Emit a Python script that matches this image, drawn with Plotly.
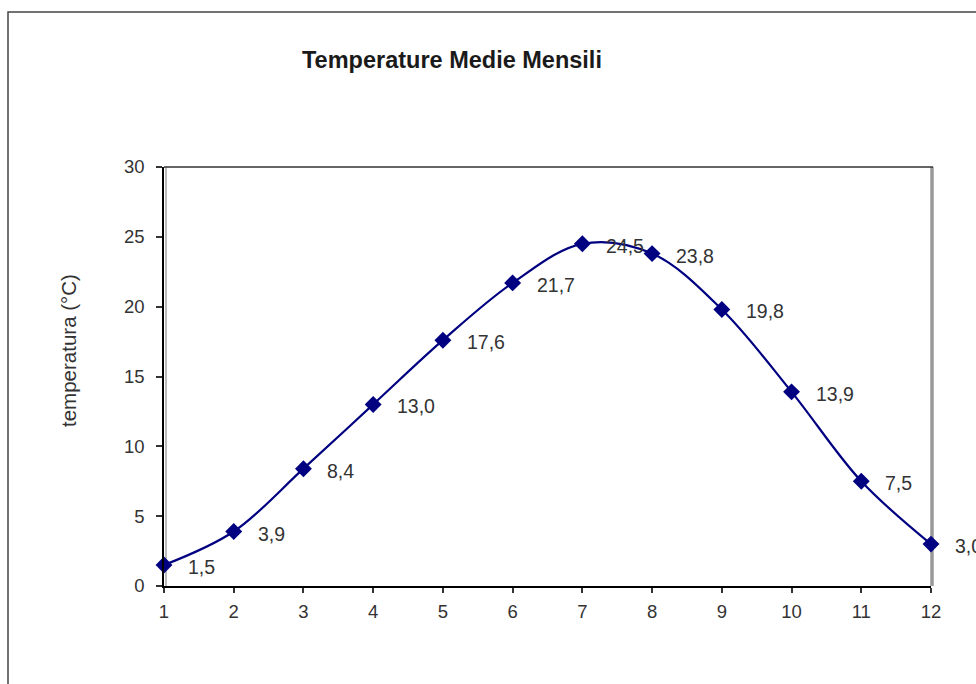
import plotly.graph_objects as go

months = [1, 2, 3, 4, 5, 6, 7, 8, 9, 10, 11, 12]
temps = [1.5, 3.9, 8.4, 13.0, 17.6, 21.7, 24.5, 23.8, 19.8, 13.9, 7.5, 3.0]
labels = [f"{v:.1f}".replace(".", ",") for v in temps]
y_ticks = [0, 5, 10, 15, 20, 25, 30]

W, H = 976, 684
L, R, T, B = 164, 931, 167, 586
pw, ph = R - L, B - T

def px(xp):
    return (xp - L) / pw

def py(yp):
    return (B - yp) / ph

FONT = "Liberation Sans, Arial, sans-serif"
NAVY = "#000080"

fig = go.Figure()
fig.add_trace(go.Scatter(
    x=months, y=temps, mode="lines+markers",
    line=dict(color=NAVY, width=2.2, shape="spline", smoothing=1.0),
    marker=dict(symbol="diamond", size=13, color=NAVY, line=dict(width=0)),
    cliponaxis=False, hoverinfo="x+y",
))

annotations = []
for x, y, t in zip(months, temps, labels):
    annotations.append(dict(
        x=x, y=y, xref="x", yref="y", text=t, showarrow=False,
        xanchor="left", yanchor="middle", xshift=22, yshift=-2,
        font=dict(family=FONT, size=19.5, color="#333333"),
    ))

annotations.append(dict(
    x=px(452), y=py(60), xref="paper", yref="paper",
    text="<b>Temperature Medie Mensili</b>", showarrow=False,
    xanchor="center", yanchor="middle",
    font=dict(family=FONT, size=23.5, color="#1a1a1a"),
))
annotations.append(dict(
    x=px(68), y=py(350), xref="paper", yref="paper",
    text="temperatura (°C)", showarrow=False, textangle=-90,
    xanchor="center", yanchor="middle",
    font=dict(family=FONT, size=20.5, color="#333333"),
))

shapes = [
    # outer chart border
    dict(type="rect", xref="paper", yref="paper",
         x0=px(8), x1=px(1010), y0=py(720), y1=py(12),
         line=dict(color="#444444", width=1.5), layer="below"),
    # plot area top edge
    dict(type="line", xref="paper", yref="paper",
         x0=0, x1=px(933), y0=1, y1=1,
         line=dict(color="#333333", width=1.5)),
    # plot area right edge (gray)
    dict(type="line", xref="paper", yref="paper",
         x0=px(932), x1=px(932), y0=0, y1=1,
         line=dict(color="#999999", width=3.5), layer="below"),
    # faint gray inner edge on left
    dict(type="line", xref="paper", yref="paper",
         x0=px(166), x1=px(166), y0=0, y1=1,
         line=dict(color="#bbbbbb", width=2), layer="below"),
]

fig.update_layout(
    width=W, height=H,
    margin=dict(l=L, r=W - R, t=T, b=H - B, autoexpand=False),
    paper_bgcolor="white", plot_bgcolor="white",
    showlegend=False,
    annotations=annotations, shapes=shapes,
    xaxis=dict(
        range=[1, 12], tickmode="array", tickvals=months,
        ticktext=[str(m) for m in months],
        showgrid=False, zeroline=False, showline=True,
        linecolor="black", linewidth=1.5,
        ticks="outside", ticklen=5, tickwidth=1.5, tickcolor="#333333",
        tickfont=dict(family=FONT, size=18.5, color="#333333"),
        ticklabelstandoff=3,
    ),
    yaxis=dict(
        range=[0, 30], tickmode="array", tickvals=y_ticks,
        showgrid=False, zeroline=False, showline=True,
        linecolor="black", linewidth=1.5,
        ticks="outside", ticklen=6, tickwidth=1.5, tickcolor="#333333",
        tickfont=dict(family=FONT, size=18.5, color="#333333"),
        ticklabelstandoff=8,
    ),
)

fig.write_html("out.html")
